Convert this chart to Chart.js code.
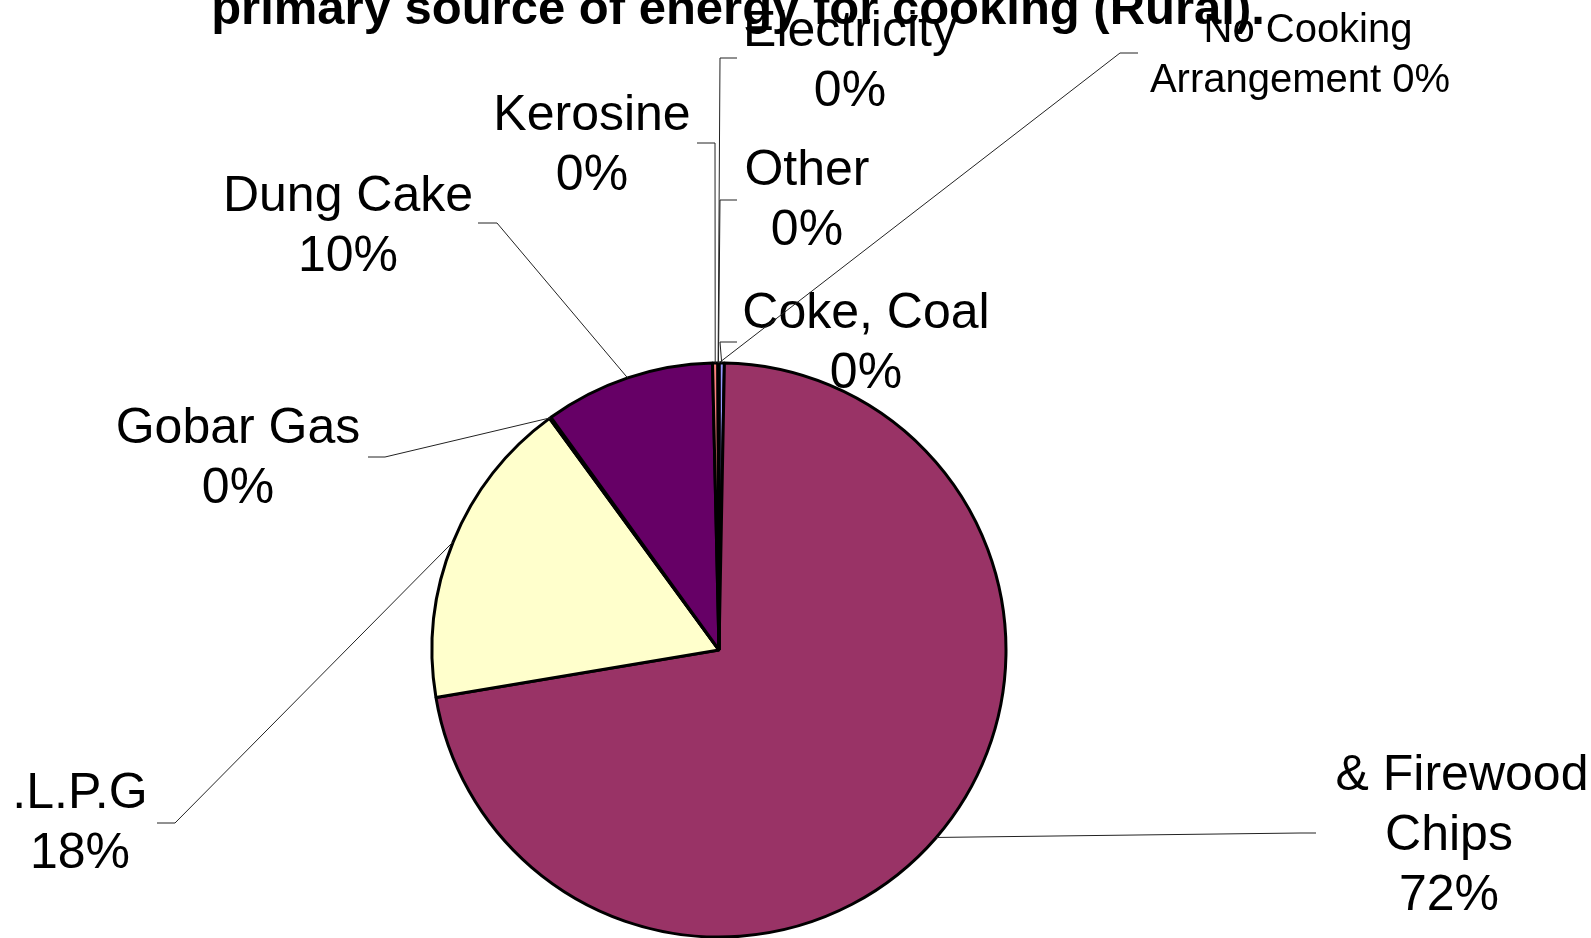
<!DOCTYPE html>
<html>
<head>
<meta charset="utf-8">
<script src="https://cdn.jsdelivr.net/npm/chart.js@4.4.0/dist/chart.umd.min.js"></script>
<style>
  html, body { margin: 0; padding: 0; background: #fff; }
  #wrap { width: 1591px; height: 938px; }
</style>
</head>
<body>
<div id="wrap"><canvas id="myChart"></canvas></div>
<script>
// data (slices clockwise from 12 o'clock)
const chartTitle = 'primary source of energy for cooking (Rural).';
const categories = ['Coke, Coal', '& Firewood\nChips', '.L.P.G', 'Gobar Gas', 'Dung Cake', 'Kerosine', 'Electricity', 'Other', 'No Cooking\nArrangement'];
const shares = [0.3, 72.1, 17.6, 0.1, 9.6, 0.3, 0.02, 0.02, 0.02];
const sliceColors = ['#9999FF', '#993366', '#FFFFCC', '#CCFFFF', '#660066', '#FF8080', '#0066CC', '#CCCCFF', '#000080'];

// label placement, offsets from the pie centre
// t = text centre of first line, e = elbow of leader, s = end of leader stub
const labelPlaces = [
    { t: [147, -336], e: [1, -308], s: [18, -308] },
    { t: [730, 126], e: [581, 183], s: [597, 183], firstDx: 13 },
    { t: [-639, 144], e: [-544, 173], s: [-562, 173] },
    { t: [-481, -221], e: [-334, -193], s: [-351, -193] },
    { t: [-371, -453], e: [-222, -427], s: [-241, -427] },
    { t: [-127, -534], e: [-4, -507], s: [-22, -507] },
    { t: [131, -618], e: [1, -592], s: [18, -592] },
    { t: [88, -479], e: [1, -450], s: [18, -450] },
    { t: [581, -619], e: [401, -597], s: [419, -597], size: 40, lh: 50, inline: true, firstDx: 8 }
];

const total = shares.reduce((a, b) => a + b, 0);

const labelPlugin = {
    id: 'pieLabels',
    afterDatasetsDraw(chart) {
        const ctx = chart.ctx;
        const arcs = chart.getDatasetMeta(0).data;
        ctx.save();
        arcs.forEach((arc, i) => {
            const p = arc.getProps(['x', 'y', 'startAngle', 'endAngle', 'outerRadius'], true);
            const place = labelPlaces[i];
            const mid = (p.startAngle + p.endAngle) / 2;
            const ax = p.x + Math.cos(mid) * p.outerRadius;
            const ay = p.y + Math.sin(mid) * p.outerRadius;

            // leader line
            ctx.strokeStyle = '#222';
            ctx.lineWidth = 1;
            ctx.beginPath();
            ctx.moveTo(ax, ay);
            ctx.lineTo(p.x + place.e[0], p.y + place.e[1]);
            ctx.lineTo(p.x + place.s[0], p.y + place.s[1]);
            ctx.stroke();

            // text
            const pct = Math.round(shares[i] / total * 100) + '%';
            let lines = categories[i].split('\n');
            if (place.inline) {
                lines[lines.length - 1] += ' ' + pct;
            } else {
                lines.push(pct);
            }
            const size = place.size || 50;
            const lh = place.lh || 60;
            ctx.font = size + 'px "Liberation Sans", Arial, sans-serif';
            ctx.fillStyle = '#000';
            ctx.textAlign = 'center';
            ctx.textBaseline = 'middle';
            lines.forEach((ln, k) => {
                const dx = (k === 0 && place.firstDx) ? place.firstDx : 0;
                ctx.fillText(ln, p.x + place.t[0] + dx, p.y + place.t[1] + k * lh);
            });
        });

        // title, partly cut off at the top
        ctx.font = 'bold 49px "Liberation Sans", Arial, sans-serif';
        ctx.textAlign = 'center';
        ctx.textBaseline = 'alphabetic';
        ctx.fillText(chartTitle, 738, 24);
        ctx.restore();
    }
};

var ctx = document.getElementById('myChart').getContext('2d');

var myChart = new Chart(ctx, {
    type: 'pie',
    data: {
        labels: categories,
        datasets: [{
            data: shares,
            backgroundColor: sliceColors,
            borderColor: '#000',
            borderWidth: 3
        }]
    },
    options: {
        responsive: true,
        maintainAspectRatio: false,
        devicePixelRatio: 1,
        animation: false,
        radius: 287,
        layout: {
            padding: { top: 362, bottom: 0, left: 0, right: 153 }
        },
        plugins: {
            legend: { display: false },
            tooltip: { enabled: false },
            title: { display: false }
        }
    },
    plugins: [labelPlugin]
});
</script>
</body>
</html>
